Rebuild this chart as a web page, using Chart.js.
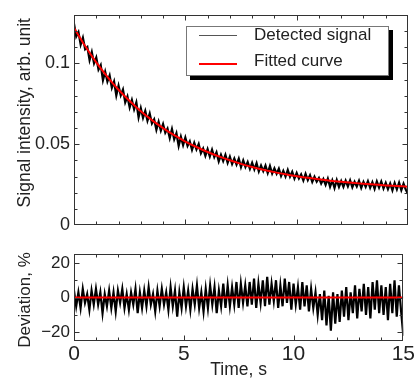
<!DOCTYPE html>
<html>
<head>
<meta charset="utf-8">
<script src="https://cdn.jsdelivr.net/npm/chart.js@4.4.1/dist/chart.umd.min.js"></script>
<style>
  html, body { margin:0; padding:0; background:#fff; }
  #wrap { position:relative; width:416px; height:382px; overflow:hidden; font-family:"Liberation Sans", Arial, sans-serif; }
  #topCanvas { position:absolute; left:0; top:0; }
  #botCanvas { position:absolute; left:0; top:240px; }
  #legend { position:absolute; left:186px; top:26px; width:201px; height:48px; border:1px solid #777; background:#fff; box-shadow:4px 4px 0 #000; }
  #legend .ln { position:absolute; left:12px; width:38px; }
  #legend .tx { position:absolute; left:67px; font-size:17px; line-height:20px; color:#222; white-space:nowrap; }
</style>
</head>
<body>
<div id="wrap">
  <canvas id="topCanvas" width="416" height="240"></canvas>
  <canvas id="botCanvas" width="416" height="142"></canvas>
  <div id="legend">
    <div class="ln" style="top:8px;height:1px;background:#555"></div>
    <div class="tx" style="top:-2px">Detected signal</div>
    <div class="ln" style="top:36px;height:2px;background:#f00"></div>
    <div class="tx" style="top:24px">Fitted curve</div>
  </div>
</div>
<script>
/* ---------- data ---------- */
const SAMPLE_STEP = 0.1; // s, sampling of the detected signal

// detected signal, arb. unit, one value every 0.1 s from 0 to 15 s
const signal = [
  0.1245,0.1166,0.1193,0.1115,0.1158,0.1087,0.1101,0.1020,0.1070,0.1000,
  0.1036,0.0962,0.0989,0.0896,0.0949,0.0887,0.0925,0.0849,0.0888,0.0802,
  0.0862,0.0803,0.0838,0.0759,0.0795,0.0727,0.0774,0.0716,0.0759,0.0666,
  0.0724,0.0663,0.0706,0.0645,0.0690,0.0629,0.0654,0.0589,0.0639,0.0584,
  0.0625,0.0571,0.0597,0.0538,0.0594,0.0531,0.0568,0.0490,0.0547,0.0495,
  0.0542,0.0490,0.0518,0.0466,0.0509,0.0468,0.0501,0.0445,0.0474,0.0428,
  0.0470,0.0424,0.0466,0.0420,0.0450,0.0395,0.0435,0.0397,0.0435,0.0385,
  0.0423,0.0378,0.0412,0.0374,0.0411,0.0359,0.0400,0.0360,0.0390,0.0348,
  0.0386,0.0345,0.0383,0.0332,0.0369,0.0334,0.0368,0.0322,0.0366,0.0319,
  0.0351,0.0318,0.0349,0.0304,0.0336,0.0301,0.0341,0.0300,0.0330,0.0288,
  0.0323,0.0289,0.0314,0.0277,0.0317,0.0279,0.0309,0.0267,0.0299,0.0269,
  0.0292,0.0257,0.0285,0.0249,0.0287,0.0237,0.0277,0.0230,0.0279,0.0237,
  0.0273,0.0237,0.0275,0.0240,0.0277,0.0234,0.0268,0.0239,0.0274,0.0231,
  0.0268,0.0237,0.0272,0.0231,0.0266,0.0225,0.0270,0.0233,0.0270,0.0227,
  0.0262,0.0223,0.0258,0.0216,0.0261,0.0222,0.0263,0.0217,0.0256,0.0221,
  0.0193
];

// deviation of signal from fit, %, same sampling
const deviation = [
  4,-5,3,-6,5,-3,2,-7,4,-4,
  5,-4,3,-9,2,-5,4,-6,3,-8,
  4,-3,5,-6,2,-7,3,-4,5,-9,
  3,-6,4,-5,6,-4,2,-8,4,-5,
  5,-4,3,-7,6,-5,4,-11,3,-6,
  6,-5,4,-7,5,-4,7,-6,3,-8,
  5,-6,7,-4,6,-9,4,-5,8,-6,
  7,-5,6,-4,9,-6,8,-3,7,-5,
  9,-4,11,-6,8,-3,10,-5,12,-4,
  8,-2,10,-6,7,-5,11,-3,9,-7,
  8,-4,6,-7,9,-5,7,-8,5,-6,
  3,-10,2,-13,4,-16,1,-19,3,-15,
  2,-14,4,-11,6,-13,3,-9,7,-12,
  5,-8,8,-10,6,-12,9,-7,10,-9,
  7,-10,6,-13,8,-9,10,-11,7,-8,
  -22
];

// fitted curve
const fitTimes = [0,0.5,1,1.5,2,2.5,3,3.5,4,4.5,5,5.5,6,6.5,7,7.5,8,8.5,9,9.5,10,10.5,11,11.5,12,12.5,13,13.5,14,14.5,15];
const fitValues = [0.1220,0.1107,0.1006,0.0917,0.0837,0.0767,0.0704,0.0649,0.0600,0.0556,0.0517,0.0483,0.0452,0.0425,0.0401,0.0379,0.0360,0.0343,0.0328,0.0315,0.0303,0.0293,0.0284,0.0275,0.0268,0.0262,0.0256,0.0251,0.0246,0.0242,0.0238];
const fitDevTimes = [0, 15];
const fitDevValues = [0, 0];

// ticks and tick labels
const xTickVals = [0,1,2,3,4,5,6,7,8,9,10,11,12,13,14,15];
const xLabelVals = [0, 5, 10, 15];
const yTopTickVals = [0,0.01,0.02,0.03,0.04,0.05,0.06,0.07,0.08,0.09,0.1,0.11,0.12,0.13];
const yTopLabelVals = [0, 0.05, 0.1];
const yTopLabels = ['0', '0.05', '0.1'];
const yBotTickVals = [-20, -10, 0, 10, 20];
const yBotLabelVals = [-20, 0, 20];
const yBotLabels = ['\u221220', '0', '20'];

/* ---------- helpers ---------- */
const TXT = '#222';
const FONT = '"Liberation Sans", Arial, sans-serif';
const sigTimes = signal.map((_, i) => i * SAMPLE_STEP);
const pts = (xs, ys) => ys.map((v, i) => ({ x: xs[i], y: v }));
const near = (a, b) => Math.abs(a - b) < 1e-6;
const isMult = (v, m) => Math.abs(v / m - Math.round(v / m)) < 1e-6;
const setTicks = vals => s => { s.ticks = vals.map(v => ({ value: v })); };
const labelFrom = (vals, labels) => v => { const i = vals.findIndex(w => near(w, v)); return i < 0 ? '' : labels[i]; };

/* frame + inward ticks on all four sides */
const frameTicks = {
  id: 'frameTicks',
  afterDatasetsDraw(chart, args, opts) {
    const { ctx, chartArea: a, scales: { x, y } } = chart;
    const L = Math.round(a.left) + 0.5, R = Math.round(a.right) - 0.5;
    const T = Math.round(a.top) + 0.5, B = Math.round(a.bottom) - 0.5;
    ctx.save();
    ctx.strokeStyle = '#333';
    ctx.lineWidth = 1;
    ctx.beginPath();
    x.ticks.forEach(t => {
      if (t.value <= x.min || t.value >= x.max) return;
      const px = Math.round(x.getPixelForValue(t.value)) + 0.5;
      const len = isMult(t.value, opts.xMajor) ? 5 : 3;
      ctx.moveTo(px, B); ctx.lineTo(px, B - len);
      ctx.moveTo(px, T); ctx.lineTo(px, T + len);
    });
    y.ticks.forEach(t => {
      if (t.value <= y.min || t.value >= y.max) return;
      const py = Math.round(y.getPixelForValue(t.value)) + 0.5;
      const len = isMult(t.value, opts.yMajor) ? 5 : 3;
      ctx.moveTo(L, py); ctx.lineTo(L + len, py);
      ctx.moveTo(R, py); ctx.lineTo(R - len, py);
    });
    ctx.stroke();
    ctx.strokeRect(L, T, R - L, B - T);
    ctx.restore();
  }
};

const baseOpts = () => ({
  responsive: false,
  animation: false,
  devicePixelRatio: 1,
  events: []
});

/* ---------- top panel ---------- */
new Chart(document.getElementById('topCanvas'), {
  type: 'line',
  data: {
    datasets: [
      { data: pts(fitTimes, fitValues), borderColor: '#f00', borderWidth: 2, pointRadius: 0, cubicInterpolationMode: 'monotone', order: 0 },
      { data: pts(sigTimes, signal), borderColor: '#000', borderWidth: 2.2, pointRadius: 0, tension: 0, order: 1 }
    ]
  },
  options: Object.assign(baseOpts(), {
    layout: { autoPadding: false, padding: { left: 0, right: 8, top: 9, bottom: 0 } },
    plugins: { legend: { display: false }, tooltip: { enabled: false }, frameTicks: { xMajor: 5, yMajor: 0.05 } },
    scales: {
      x: {
        type: 'linear', min: 0, max: 15,
        afterBuildTicks: setTicks(xTickVals),
        ticks: { display: false, autoSkip: false },
        grid: { display: false, drawTicks: false },
        border: { display: false },
        afterFit: s => { s.height = 9; }
      },
      y: {
        type: 'linear', min: 0, max: 0.13,
        afterBuildTicks: setTicks(yTopTickVals),
        ticks: {
          autoSkip: false, padding: 4, color: TXT,
          font: { family: FONT, size: 18 },
          callback: labelFrom(yTopLabelVals, yTopLabels)
        },
        grid: { display: false, drawTicks: false },
        border: { display: false },
        // leading spaces nudge the label up a little, as in the original
        title: { display: true, text: '\u00a0\u00a0\u00a0Signal intensity, arb. unit', color: TXT, font: { family: FONT, size: 17.5 }, padding: { top: 15, bottom: 0 } },
        afterFit: s => { s.width = 74; }
      }
    }
  }),
  plugins: [frameTicks]
});

/* ---------- bottom panel ---------- */
new Chart(document.getElementById('botCanvas'), {
  type: 'line',
  data: {
    datasets: [
      { data: pts(fitDevTimes, fitDevValues), borderColor: '#f00', borderWidth: 2, pointRadius: 0, order: 0 },
      { data: pts(sigTimes, deviation), borderColor: '#000', borderWidth: 2.2, pointRadius: 0, tension: 0, order: 1 }
    ]
  },
  options: Object.assign(baseOpts(), {
    layout: { autoPadding: false, padding: { left: 0, right: 8, top: 9, bottom: 0 } },
    plugins: { legend: { display: false }, tooltip: { enabled: false }, frameTicks: { xMajor: 5, yMajor: 20 } },
    scales: {
      x: {
        type: 'linear', min: 0, max: 15,
        afterBuildTicks: setTicks(xTickVals),
        ticks: {
          autoSkip: false, maxRotation: 0, padding: 1, color: TXT,
          font: { family: FONT, size: 21 },
          callback: v => xLabelVals.some(w => near(w, v)) ? String(v) : ''
        },
        grid: { display: false, drawTicks: false },
        border: { display: false },
        title: { display: true, text: 'Time, s', color: TXT, font: { family: FONT, size: 17.5 }, padding: { top: 0, bottom: 1 } },
        afterFit: s => { s.height = 41; }
      },
      y: {
        type: 'linear', min: -25, max: 25,
        afterBuildTicks: setTicks(yBotTickVals),
        ticks: {
          autoSkip: false, padding: 4, color: TXT,
          font: { family: FONT, size: 17 },
          callback: labelFrom(yBotLabelVals, yBotLabels)
        },
        grid: { display: false, drawTicks: false },
        border: { display: false },
        title: { display: true, text: 'Deviation, %\u00a0', color: TXT, font: { family: FONT, size: 17 }, padding: { top: 15, bottom: 0 } },
        afterFit: s => { s.width = 74; }
      }
    }
  }),
  plugins: [frameTicks]
});
</script>
</body>
</html>
